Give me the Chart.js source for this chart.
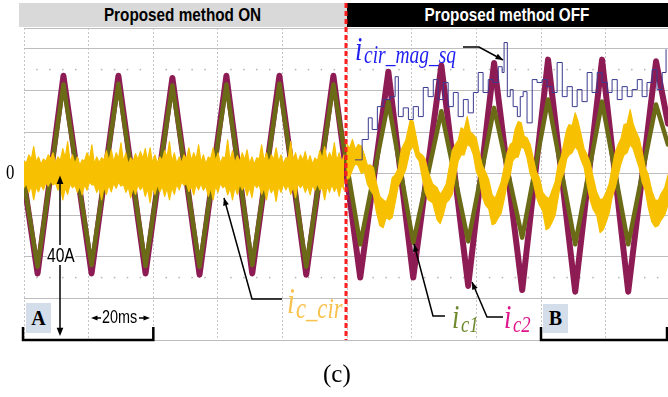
<!DOCTYPE html>
<html><head><meta charset="utf-8">
<script src="https://cdn.jsdelivr.net/npm/chart.js@4.4.1/dist/chart.umd.min.js"></script>
<style>
html,body{margin:0;padding:0;background:#fff;}
#wrap{position:relative;width:668px;height:397px;overflow:hidden;background:#fff;}
#c{position:absolute;left:0;top:0;z-index:1;}
.hdr{position:absolute;top:3px;height:24px;z-index:0;text-align:center;font-family:"Liberation Sans",Arial,sans-serif;font-weight:bold;font-size:18px;line-height:24px;}
.hdr span{display:inline-block;transform:scaleX(0.85);}
.lbl{position:absolute;z-index:2;white-space:nowrap;line-height:1;transform-origin:left top;}
.box{position:absolute;z-index:2;background:#d3deea;text-align:center;font-family:"Liberation Serif","Times New Roman",serif;font-weight:bold;font-size:20px;}
</style>
</head><body>
<div id="wrap">
  <div class="hdr" style="left:19px;width:328px;background:#d9d9d9;color:#000;"><span>Proposed method ON</span></div>
  <div class="hdr" style="left:347px;width:321px;background:#000;color:#fff;"><span>Proposed method OFF</span></div>
  <canvas id="c" width="668" height="397"></canvas>
  <div class="box" style="left:26px;top:303px;width:25px;height:30px;line-height:30px;">A</div>
  <div class="box" style="left:543px;top:304px;width:25px;height:29px;line-height:29px;">B</div>
</div>
<script>
// ---- data (time in ms, current in A) ----
const icTimes = [0, 4.2, 12.2, 20.9, 29.2, 37.6, 45.9, 54.3, 62.6, 70.6, 79.0, 87.3, 95.7,
  104.0, 112.7, 120.4, 129.1, 137.4, 145.4, 154.1, 162.1, 170.5, 178.8, 186.9, 195.5, 199.2];
const ic2Values = [-2, -24, 23.5, -24, 23.5, -24, 23, -24.3, 23.5, -24, 23.5, -24.3, 23.5,
  -25, 24.5, -25, 26, -27, 26.6, -28, 27.4, -28.4, 27.4, -28.4, 27, 12];
const ic1Values = [-2, -22.4, 21.4, -22, 21.6, -22.2, 21.2, -22.4, 21.4, -22, 21.6, -22.4, 21.4,
  -17, 17.3, -16.6, 15, -16.3, 15.8, -15.4, 17.8, -17, 17.3, -17, 16.6, 7];

// i_c_cir band: upper and lower edges of the noisy trace
const cirTimesOn = [0,0.75,1.5,2.25,3,3.75,4.5,5.25,6,6.75,7.5,8.25,9,9.75,10.5,11.25,12,12.75,13.5,14.25,15,15.75,16.5,17.25,18,18.75,19.5,20.25,21,21.75,22.5,23.25,24,24.75,25.5,26.25,27,27.75,28.5,29.25,30,30.75,31.5,32.25,33,33.75,34.5,35.25,36,36.75,37.5,38.25,39,39.75,40.5,41.25,42,42.75,43.5,44.25,45,45.75,46.5,47.25,48,48.75,49.5,50.25,51,51.75,52.5,53.25,54,54.75,55.5,56.25,57,57.75,58.5,59.25,60,60.75,61.5,62.25,63,63.75,64.5,65.25,66,66.75,67.5,68.25,69,69.75,70.5,71.25,72,72.75,73.5,74.25,75,75.75,76.5,77.25,78,78.75,79.5,80.25,81,81.75,82.5,83.25,84,84.75,85.5,86.25,87,87.75,88.5,89.25,90,90.75,91.5,92.25,93,93.75,94.5,95.25,96,96.75,97.5,98.25,99];
const cirUpperOn = [3.0,2.6,4.5,3.4,6.5,2.8,4.0,2.2,3.5,3.0,4.5,3.6,5.0,2.5,4.0,3.2,6.0,3.8,7.7,2.7,4.5,2.4,4.0,2.0,3.3,3.1,5.0,3.5,6.9,2.3,4.0,2.6,3.8,3.3,5.5,3.0,5.7,2.8,5.0,3.6,7.4,2.9,5.0,2.2,3.8,3.0,4.8,3.4,5.3,3.6,6.0,3.0,6.2,2.6,4.5,2.5,4.0,3.2,5.5,3.9,7.7,2.8,5.0,2.4,4.0,2.6,4.5,3.5,6.2,3.1,5.0,3.4,6.9,2.7,4.5,2.3,4.0,3.6,6.2,3.0,5.0,2.4,4.0,3.8,8.1,3.0,5.5,2.5,4.3,2.9,5.0,3.3,5.7,2.4,4.0,2.2,3.8,3.5,6.9,3.0,5.0,2.7,4.5,3.4,6.2,2.8,4.5,2.3,3.8,3.7,7.7,3.1,5.0,2.6,4.5,3.2,5.3,2.5,4.3,2.2,3.8,3.0,5.5,3.6,6.5,3.1,5.0,3.7,7.4,3.0,5.0,2.7,4.5];
const cirLowerOn = [-3.4,-2.4,-4.5,-3.0,-6.3,-3.2,-4.4,-2.6,-3.9,-2.2,-3.0,-1.8,-2.7,-2.3,-4.0,-3.1,-6.3,-3.4,-5.0,-2.5,-3.4,-2.8,-4.5,-3.0,-5.1,-2.6,-4.0,-2.0,-2.7,-2.7,-4.5,-3.3,-6.3,-3.2,-5.0,-2.7,-4.4,-2.3,-3.5,-2.0,-3.0,-2.6,-4.5,-3.2,-5.8,-3.4,-5.0,-2.6,-3.9,-2.9,-5.5,-3.6,-7.0,-3.3,-5.0,-2.7,-4.4,-3.0,-5.5,-3.5,-6.3,-3.3,-5.0,-2.5,-3.9,-2.0,-2.8,-2.4,-4.3,-3.0,-5.1,-2.6,-3.9,-2.4,-4.0,-2.9,-5.5,-3.4,-6.3,-3.0,-4.5,-2.3,-3.4,-2.8,-5.1,-3.5,-6.3,-3.2,-5.0,-2.5,-3.9,-2.9,-5.3,-3.3,-5.8,-2.4,-3.4,-2.6,-5.0,-3.4,-6.3,-3.0,-4.6,-3.5,-6.7,-3.0,-4.5,-2.5,-3.9,-2.7,-5.0,-3.2,-5.8,-2.4,-3.4,-2.6,-4.5,-3.0,-5.1,-2.7,-4.0,-2.4,-3.9,-3.4,-6.3,-3.0,-4.5,-2.6,-4.3,-3.1,-5.5,-2.6,-3.9];
const cirTimesOff = [99.7,100.65,101.6,102.5,103.4,104.35,105.3,106.2,107.1,108.05,109.0,110.05,111.1,112.05,113.0,113.9,114.8,115.75,116.7,118.1,119.5,120.4,121.3,122.25,123.2,124.1,125.0,126.4,127.8,128.75,129.7,130.6,131.5,132.45,133.4,134.3,135.2,136.15,137.1,138.05,139.0,139.9,140.8,141.75,142.7,143.75,144.8,145.75,146.7,147.6,148.5,149.45,150.4,151.15,151.9,152.85,153.8,154.7,155.6,156.55,157.5,158.45,159.4,160.45,161.5,162.45,163.4,164.3,165.2,166.15,167.1,167.85,168.6,169.55,170.5,171.4,172.3,173.25,174.2,175.15,176.1,177.15,178.2,179.15,180.1,181.0,181.9,182.85,183.8,184.7,185.6,186.55,187.5,188.4,189.3,190.25,191.2,192.15,193.1,194.15,195.2,196.15,197.1,198.15,199.2];
const cirUpperOff = [7.4,6.0,8.2,5.8,7.0,6.6,4.5,2.0,2.1,1.5,-2.2,-5.5,-6.3,-6.8,-4.8,-1.0,-0.3,1.2,5.8,8.0,13.0,12.5,8.9,5.0,4.5,3.5,0.5,-2.5,-3.4,-5.0,-3.9,-2.5,1.4,5.5,7.0,8.0,11.0,10.5,13.7,10.0,9.4,8.5,5.3,2.0,0.5,-1.5,-5.1,-6.0,-3.9,-2.0,1.4,5.0,7.0,7.5,10.6,12.5,12.2,9.0,8.6,7.0,3.8,0.5,-1.0,-4.5,-5.6,-6.0,-3.9,-2.0,2.1,4.0,7.7,10.5,11.8,11.5,14.6,12.5,9.4,6.0,4.5,2.5,-1.0,-4.5,-6.3,-6.0,-4.4,-2.5,1.4,5.0,7.0,8.5,11.8,12.0,15.4,12.0,10.1,8.5,5.3,1.5,-0.3,-4.0,-6.3,-6.5,-4.8,-3.5,-0.3];
const cirLowerOff = [-1.5,-1.0,0.9,2.5,1.9,0.0,0.5,-2.5,-3.9,-5.0,-9.2,-12.5,-13.0,-10.5,-11.1,-10.5,-7.0,-3.0,-1.5,1.0,5.8,6.5,4.1,3.0,-1.0,-4.5,-6.3,-7.0,-11.1,-12.0,-9.9,-7.0,-6.3,-5.0,-1.0,3.0,4.5,4.5,7.0,6.5,4.5,0.5,-1.0,-5.5,-7.5,-8.5,-12.3,-12.0,-10.6,-9.5,-6.3,-2.5,-0.3,3.0,3.8,4.0,6.5,6.0,3.8,0.0,-2.0,-5.5,-7.5,-9.0,-13.5,-13.0,-11.6,-10.0,-5.8,-1.5,0.5,3.5,4.5,5.0,6.5,5.5,3.3,1.5,-2.7,-6.5,-8.7,-10.0,-14.2,-13.5,-11.6,-9.5,-5.8,-3.5,-0.3,2.5,4.5,5.0,7.0,6.0,3.8,1.5,-2.0,-4.0,-8.2,-11.5,-12.8,-12.5,-11.1,-10.0,-7.5];

const cirMagTimes = [102.5,104.6,106.5,107.7,109.3,111.1,113.3,114.8,115.8,117.3,118.9,120.4,122.0,123.5,125.0,126.6,128.1,129.7,131.2,132.8,134.3,135.9,137.4,139.0,140.5,142.0,143.6,145.1,146.7,147.9,148.5,149.5,150.4,151.3,152.6,153.5,154.4,155.6,157.2,158.7,160.3,161.8,163.4,164.9,166.5,168.0,169.6,171.1,172.6,174.2,175.7,177.3,178.8,180.4,181.9,183.5,185.0,186.6,188.1,189.7,191.2,192.7,194.3,195.8,197.4,198.6];
const cirMagValues = [3.3,8.2,13.4,10.6,16.1,17.8,18.5,23.3,13.7,15.8,13.0,16.1,13.7,20.7,18.5,22.6,17.8,21.9,16.1,19.5,13.7,17.8,14.6,19.5,24.3,19.5,22.6,21.9,25.7,24.3,31.5,18.5,20.2,16.1,13.7,18.5,19.7,12.2,22.6,21.9,22.6,20.9,19.5,26.7,18.5,20.9,16.1,20.2,17.3,24.3,19.5,24.3,21.9,19.5,22.6,17.8,20.9,18.5,20.2,22.6,18.5,21.9,25.0,20.2,24.3,29.8];

const xTickStep = 20;    // ms per division
const yTickStep = 10;    // A per division
const switchTime = 99.6; // method switched OFF here

function zip(xs, ys){ return xs.map((x,i)=>({x:x, y:ys[i]})); }

function arrowHead(ctx, fx, fy, tx, ty, size){
  const a = Math.atan2(ty-fy, tx-fx);
  ctx.beginPath();
  ctx.moveTo(tx, ty);
  ctx.lineTo(tx - size*Math.cos(a-0.38), ty - size*Math.sin(a-0.38));
  ctx.lineTo(tx - size*Math.cos(a+0.38), ty - size*Math.sin(a+0.38));
  ctx.closePath(); ctx.fill();
}
function polyArrow(ctx, pts, w){
  ctx.lineWidth = w;
  ctx.beginPath();
  ctx.moveTo(pts[0][0], pts[0][1]);
  for (let i=1;i<pts.length;i++) ctx.lineTo(pts[i][0], pts[i][1]);
  ctx.stroke();
  const n = pts.length;
  arrowHead(ctx, pts[n-2][0], pts[n-2][1], pts[n-1][0], pts[n-1][1], 8);
}

const overlay = {
  id: 'overlay',
  beforeDatasetsDraw(chart){
    const ctx = chart.ctx, xs = chart.scales.x, ys = chart.scales.y;
    ctx.save();
    ctx.fillStyle = '#b4b4b4';
    for (let t = 4; t < xs.max; t += 4){
      if (t % 20 === 0) continue;
      const px = xs.getPixelForValue(t);
      [25, -25].forEach(v => { const py = ys.getPixelForValue(v); ctx.fillRect(px-0.75, py-0.75, 1.5, 1.5); });
    }
    ctx.restore();
  },
  afterDraw(chart){
    const ctx = chart.ctx, xs = chart.scales.x, ys = chart.scales.y;
    ctx.save();
    const sx = xs.getPixelForValue(switchTime);
    ctx.strokeStyle = '#ff1e1e'; ctx.lineWidth = 3; ctx.setLineDash([5,3]);
    ctx.beginPath(); ctx.moveTo(sx, 3); ctx.lineTo(sx, ys.bottom); ctx.stroke();
    ctx.setLineDash([]);
    ctx.strokeStyle = '#000'; ctx.lineWidth = 2.5;
    const yb = ys.bottom;
    ctx.beginPath(); ctx.moveTo(23, yb-13); ctx.lineTo(23, yb); ctx.lineTo(xs.getPixelForValue(40), yb); ctx.lineTo(xs.getPixelForValue(40), yb-13); ctx.stroke();
    ctx.beginPath(); ctx.moveTo(541, yb-13); ctx.lineTo(541, yb); ctx.lineTo(667, yb); ctx.lineTo(667, yb-13); ctx.stroke();
    ctx.fillStyle = '#000'; ctx.lineWidth = 1.5;
    const ax = 60, ay0 = ys.getPixelForValue(0) + 2, ay1 = ys.getPixelForValue(-40) - 4;
    ctx.beginPath(); ctx.moveTo(ax, ay0+6); ctx.lineTo(ax, ay1-6); ctx.stroke();
    arrowHead(ctx, ax, ay1, ax, ay0, 9);
    arrowHead(ctx, ax, ay0, ax, ay1, 9);
    const my = 318;
    ctx.beginPath(); ctx.moveTo(101, my); ctx.lineTo(95, my); ctx.moveTo(139, my); ctx.lineTo(146, my); ctx.stroke();
    arrowHead(ctx, 101, my, 91, my, 7);
    arrowHead(ctx, 139, my, 150, my, 7);
    polyArrow(ctx, [[282,299],[252,299],[224,198]], 1.5);
    polyArrow(ctx, [[445,316],[433,316],[414,244]], 1.5);
    polyArrow(ctx, [[503,317],[487,317],[472,282]], 1.5);
    polyArrow(ctx, [[463,47],[479,47],[503,60]], 1.5);
    ctx.restore();
  }
};

const yellow = '#f7c000';
const lineBase = {pointRadius:0, tension:0, fill:false, borderJoinStyle:'round', borderCapStyle:'round'};
new Chart(document.getElementById('c'), {
  type: 'line',
  data: { datasets: [
    Object.assign({}, lineBase, {label:'i_cir_mag_sq', data: zip(cirMagTimes, cirMagValues), borderColor:'#3a3a90', borderWidth:1, stepped:true}),
    Object.assign({}, lineBase, {label:'i_c_cir ON (upper)', data: zip(cirTimesOn, cirUpperOn), borderColor:yellow, backgroundColor:yellow, borderWidth:1.2}),
    Object.assign({}, lineBase, {label:'i_c_cir ON (lower)', data: zip(cirTimesOn, cirLowerOn), borderColor:yellow, backgroundColor:yellow, borderWidth:1.2, fill:'-1'}),
    Object.assign({}, lineBase, {label:'i_c_cir OFF (upper)', data: zip(cirTimesOff, cirUpperOff), borderColor:yellow, backgroundColor:yellow, borderWidth:1.2}),
    Object.assign({}, lineBase, {label:'i_c_cir OFF (lower)', data: zip(cirTimesOff, cirLowerOff), borderColor:yellow, backgroundColor:yellow, borderWidth:1.2, fill:'-1'}),
    Object.assign({}, lineBase, {label:'i_c1', data: zip(icTimes, ic1Values), borderColor:'#6b6a16', borderWidth:4.5}),
    Object.assign({}, lineBase, {label:'i_c2', data: zip(icTimes, ic2Values), borderColor:'#8d1c54', borderWidth:6})
  ]},
  options: {
    responsive:false, animation:false, devicePixelRatio:1,
    layout:{padding:{left:24, top:28, right:0, bottom:57}},
    plugins:{legend:{display:false}, tooltip:{enabled:false}},
    scales:{
      x:{type:'linear', min:0, max:199.2, ticks:{display:false, stepSize:xTickStep},
         grid:{color:'#c6c6c6', lineWidth:1, drawTicks:false}, border:{display:false, dash:[2,2]}},
      y:{type:'linear', min:-40, max:35, ticks:{display:false, stepSize:yTickStep},
         grid:{color:'#bdbdbd', lineWidth:1, drawTicks:false}, border:{display:false}}
    }
  },
  plugins:[overlay]
});

// ---- text labels (real text) ----
const wrap = document.getElementById('wrap');
function label(txt, x, base, size, o){
  o = o || {};
  const d = document.createElement('div');
  d.className = 'lbl';
  d.textContent = txt;
  const serif = !!o.serif;
  d.style.fontFamily = serif ? '"Liberation Serif","Times New Roman",serif' : '"Liberation Sans",Arial,sans-serif';
  d.style.fontSize = size + 'px';
  if (o.italic) d.style.fontStyle = 'italic';
  if (o.bold) d.style.fontWeight = 'bold';
  d.style.color = o.color || '#000';
  if (o.bg) { d.style.background = o.bg; }
  d.style.left = x + 'px';
  d.style.top = (base - (serif ? 0.8375 : 0.8465) * size) + 'px';
  d.style.transform = 'scaleX(' + (o.sx || 1) + ')';
  wrap.appendChild(d);
  return d;
}
label('0', 6, 180, 21, {serif:true, sx:0.8});
label('40A', 47, 262, 20, {sx:0.78, bg:'#fff'});
label('20ms', 102, 323, 18, {sx:0.8});
const sub = {serif:true, italic:true, sx:0.78};
label('i', 355, 60, 34, Object.assign({color:'#1e1ef0'}, sub));
label('cir_mag_sq', 364, 63, 25, Object.assign({color:'#1e1ef0'}, sub));
label('i', 287, 313, 36, Object.assign({color:'#f8c24e'}, sub));
label('c_cir', 296, 318, 29, Object.assign({color:'#f8c24e'}, sub));
label('i', 452, 328, 34, Object.assign({color:'#6f8a2e'}, sub));
label('c1', 461, 332, 24, Object.assign({color:'#6f8a2e'}, sub));
label('i', 504, 328, 34, Object.assign({color:'#e0158c'}, sub));
label('c2', 513, 332, 24, Object.assign({color:'#e0158c'}, sub));
label('(c)', 323, 382, 25, {serif:true});
</script>
</body></html>
